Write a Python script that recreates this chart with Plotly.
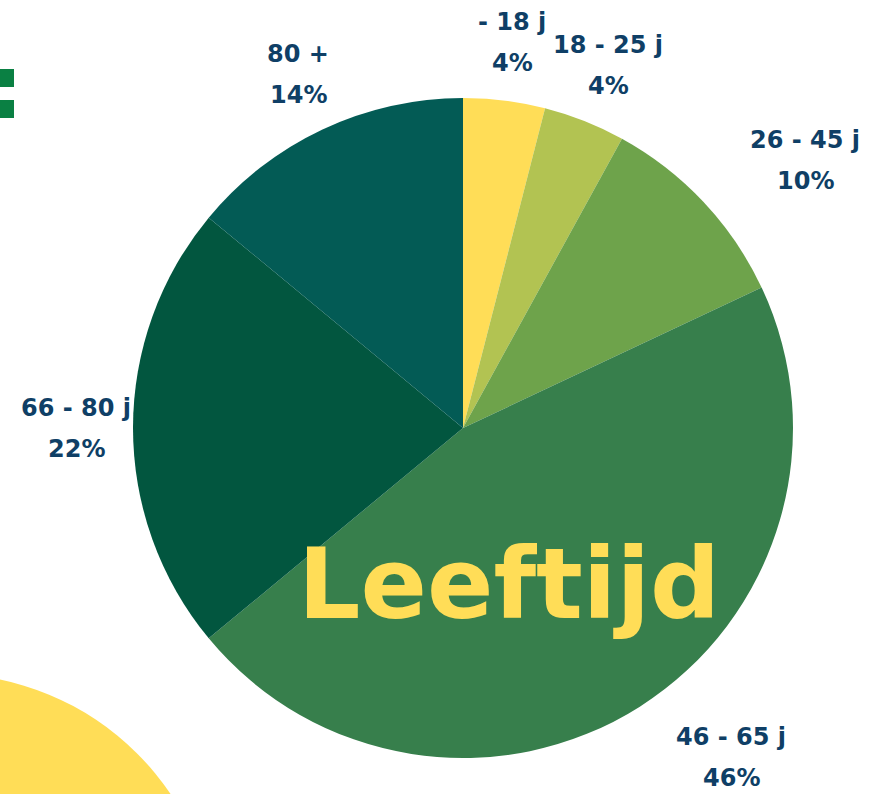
import plotly.graph_objects as go

categories = ["- 18 j", "18 - 25 j", "26 - 45 j", "46 - 65 j", "66 - 80 j", "80 +"]
values = [4, 4, 10, 46, 22, 14]
colors = ["#FFDD57", "#B2C352", "#6EA34B", "#377F4C", "#02563F", "#035B55"]

# label placement (pixel centres of the label text)
label_pos = [(512, 22), (608, 45), (805, 140), (731, 737), (76, 408), (298, 54)]
line_gap = 41

W, H = 880, 794
TEXT_COLOR = "#0F3F66"
LABEL_FONT = "DejaVu Sans"

def px(x):
    return x / W

def py(y):
    return 1 - y / H

cx, cy, r = 463, 428, 330

fig = go.Figure(go.Pie(
    labels=categories,
    values=values,
    marker=dict(colors=colors, line=dict(width=0)),
    sort=False,
    direction="clockwise",
    rotation=0,
    textinfo="none",
    hoverinfo="label+percent",
    showlegend=False,
    domain=dict(x=[px(cx - r), px(cx + r)], y=[py(cy + r), py(cy - r)]),
))

annotations = []
for cat, val, (x, y) in zip(categories, values, label_pos):
    annotations.append(dict(x=px(x), y=py(y), xref="paper", yref="paper",
                            text=f"<b>{cat}</b>", showarrow=False,
                            font=dict(family=LABEL_FONT, size=24, color=TEXT_COLOR),
                            xanchor="center", yanchor="middle"))
    annotations.append(dict(x=px(x), y=py(y + line_gap), xref="paper", yref="paper",
                            text=f"<b>{val}%</b>", showarrow=False,
                            font=dict(family=LABEL_FONT, size=24, color=TEXT_COLOR),
                            xanchor="center", yanchor="middle"))

annotations.append(dict(x=px(509), y=py(584), xref="paper", yref="paper",
                        text="<b>Leeftijd</b>", showarrow=False,
                        font=dict(family="DejaVu Sans", size=98, color="#FFDD57"),
                        xanchor="center", yanchor="middle"))

shapes = [
    dict(type="circle", xref="paper", yref="paper", layer="below",
         x0=px(-55 - 272), x1=px(-55 + 272), y0=py(946 + 272), y1=py(946 - 272),
         fillcolor="#FFDD57", line=dict(width=0)),
    dict(type="rect", xref="paper", yref="paper", layer="below",
         x0=px(-5), x1=px(14), y0=py(87), y1=py(69),
         fillcolor="#0A8043", line=dict(width=0)),
    dict(type="rect", xref="paper", yref="paper", layer="below",
         x0=px(-5), x1=px(14), y0=py(118), y1=py(100),
         fillcolor="#0A8043", line=dict(width=0)),
]

fig.update_layout(
    width=W, height=H,
    margin=dict(l=0, r=0, t=0, b=0),
    paper_bgcolor="white", plot_bgcolor="white",
    annotations=annotations,
    shapes=shapes,
)

fig.write_html("out.html",
               config={"displayModeBar": False},
               post_script="document.body.style.margin='0';document.body.style.overflow='hidden';")
